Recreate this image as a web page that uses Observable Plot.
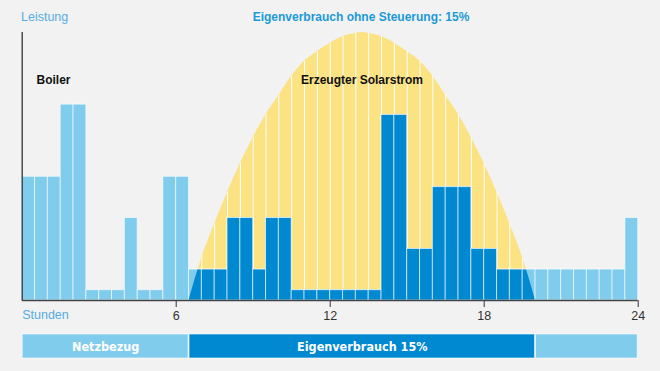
<!DOCTYPE html>
<html>
<head>
<meta charset="utf-8">
<script src="https://cdn.jsdelivr.net/npm/d3@7"></script>
<script src="https://cdn.jsdelivr.net/npm/@observablehq/plot@0.6"></script>
<style>
  html, body { margin: 0; padding: 0; background: #f2f2f2; }
  body { width: 660px; height: 371px; overflow: hidden; font-family: "Liberation Sans", Arial, sans-serif; }
  #head { position: relative; height: 30px; }
  #head span { position: absolute; top: 10px; line-height: 14px; white-space: nowrap; }
  #ylab { left: 21px; font-size: 12.5px; color: #55ace2; }
  #title { left: 361px; transform: translateX(-50%); font-size: 12px; font-weight: bold; color: #1a9ad7; }
  svg { display: block; }
</style>
</head>
<body>
<div id="head"><span id="ylab">Leistung</span><span id="title">Eigenverbrauch ohne Steuerung: 15%</span></div>
<div id="main"></div>
<div id="band"></div>
<script>
// Half-hour slots (start hour) and household consumption in kW
const slotStart = [0,0.5,1,1.5,2,2.5,3,3.5,4,4.5,5,5.5,6,6.5,7,7.5,8,8.5,9,9.5,10,10.5,11,11.5,
                   12,12.5,13,13.5,14,14.5,15,15.5,16,16.5,17,17.5,18,18.5,19,19.5,20,20.5,21,21.5,22,22.5,23,23.5];
const consumption = [2.4,2.4,2.4,3.8,3.8,0.2,0.2,0.2,1.6,0.2,0.2,2.4,2.4,0.6,0.6,0.6,1.6,1.6,0.6,1.6,1.6,0.2,0.2,0.2,
                     0.2,0.2,0.2,0.2,3.6,3.6,1.0,1.0,2.2,2.2,2.2,1.0,1.0,0.6,0.6,0.6,0.6,0.6,0.6,0.6,0.6,0.6,0.6,1.6];
// Solar production curve (kW)
const solarHour = [6.5,7,7.5,8,8.5,9,9.5,10,10.5,11,11.5,12,12.5,13,13.25,13.5,14,14.5,15,15.5,16,16.5,17,17.5,18,18.5,19,19.5,20];
const solarKw   = [0,0.83,1.49,2.1,2.66,3.16,3.61,3.98,4.35,4.64,4.83,4.99,5.12,5.18,5.2,5.18,5.12,4.99,4.83,4.64,4.35,3.98,3.61,3.16,2.66,2.1,1.49,0.83,0];
// Axis ticks
const xTicks = [6, 12, 18, 24];
// Labels
const labelText = ["Boiler", "Erzeugter Solarstrom"];
const labelHour = [1.22, 13.24];
const labelKw = [4.27, 4.27];
// Bottom band segments
const bandStart = [0, 6.5, 20];
const bandEnd = [6.5, 20, 24];
const bandKind = ["grid", "self", "grid"];
const bandLabel = ["Netzbezug", "Eigenverbrauch 15%", ""];

const LIGHT = "#80cced", DARK = "#0089d1", YELLOW = "#fbe282";

const bars = slotStart.map((h, i) => ({h, kw: consumption[i]}));
const solar = solarHour.map((h, i) => ({h, kw: solarKw[i]}));
const labels = labelText.map((t, i) => ({t, h: labelHour[i], kw: labelKw[i]}));
const band = bandStart.map((s, i) => ({s, e: bandEnd[i], kind: bandKind[i], label: bandLabel[i]}));

const main = Plot.plot({
  width: 660, height: 300,
  marginTop: 2, marginBottom: 30, marginLeft: 21.7, marginRight: 22.3,
  style: {background: "transparent", fontFamily: "'Liberation Sans', Arial, sans-serif", fontSize: "12.5px", color: "#333"},
  x: {domain: [0, 24], ticks: xTicks, tickSize: 7, tickPadding: 4, tickFormat: d => d, label: null},
  y: {domain: [0, 5.2], axis: null},
  marks: [
    Plot.areaY(solar, {x: "h", y: "kw", fill: YELLOW, curve: "monotone-x"}),
    Plot.ruleX(slotStart, {x: d => d, y1: 0, y2: 5.2, stroke: "white", strokeWidth: 1, ariaDescription: "clipme"}),
    Plot.rectY(bars, {x1: "h", x2: d => d.h + 0.5, y: "kw", fill: LIGHT, stroke: "white", strokeOpacity: 0.6, strokeWidth: 1}),
    Plot.rectY(bars, {x1: "h", x2: d => d.h + 0.5, y: "kw", fill: DARK, stroke: "white", strokeOpacity: 0.6, strokeWidth: 1, ariaDescription: "clipme"}),
    Plot.ruleX([0], {stroke: "#333", strokeWidth: 1.3}),
    Plot.ruleY([0], {stroke: "#444", strokeWidth: 1.5}),
    Plot.text(labels, {x: "h", y: "kw", text: "t", fill: "#111", fontWeight: "bold", fontSize: 12}),
    Plot.text(["Stunden"], {frameAnchor: "bottom-left", text: d => d, dy: 18, textAnchor: "start", fill: "#55ace2", fontSize: 12.5})
  ]
});
document.getElementById("main").appendChild(main);

// clip dark bars and separators to the solar area
(function () {
  const ns = "http://www.w3.org/2000/svg";
  const areaG = main.querySelector('g[aria-label="area"]');
  const areaPath = areaG.querySelector("path");
  const defs = document.createElementNS(ns, "defs");
  const cp = document.createElementNS(ns, "clipPath");
  cp.setAttribute("id", "solarClip");
  const p = document.createElementNS(ns, "path");
  p.setAttribute("d", areaPath.getAttribute("d"));
  if (areaG.getAttribute("transform")) p.setAttribute("transform", areaG.getAttribute("transform"));
  cp.appendChild(p);
  defs.appendChild(cp);
  main.insertBefore(defs, main.firstChild);
  main.querySelectorAll('g[aria-description="clipme"]').forEach(g => g.setAttribute("clip-path", "url(#solarClip)"));
})();

const bandPlot = Plot.plot({
  width: 660, height: 41,
  marginTop: 4, marginBottom: 13, marginLeft: 21.7, marginRight: 22.3,
  style: {background: "transparent", fontFamily: "'Liberation Sans Narrow', 'DejaVu Sans Condensed', 'Liberation Sans', sans-serif", fontSize: "12px"},
  x: {domain: [0, 24], axis: null},
  marks: [
    Plot.rect(band, {x1: "s", x2: "e", fill: d => d.kind === "self" ? DARK : LIGHT, stroke: "white", strokeOpacity: 0.6, insetLeft: 0.5, insetRight: 0.5}),
    Plot.text(band, {x: d => (d.s + d.e) / 2, text: "label", fill: "white", fontWeight: "bold", fontSize: 12.5})
  ]
});
document.getElementById("band").appendChild(bandPlot);
</script>
</body>
</html>
